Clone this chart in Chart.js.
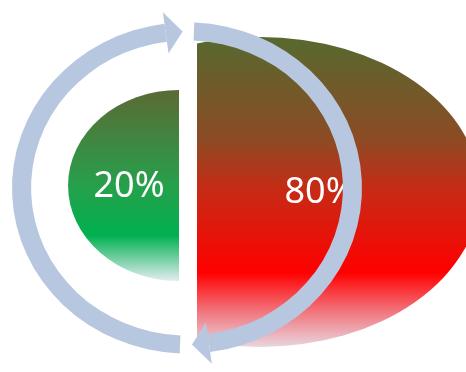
<!DOCTYPE html>
<html>
<head>
<meta charset="utf-8">
<script src="https://cdn.jsdelivr.net/npm/chart.js@4.4.1/dist/chart.umd.min.js"></script>
<style>
  html, body { margin: 0; padding: 0; background: #fff; }
  #wrap { width: 466px; height: 372px; }
</style>
</head>
<body>
<div id="wrap"><canvas id="pareto"></canvas></div>
<script>
/* ── Data: the 20 / 80 split ── */
const shareLabels = ['20%', '80%'];
const shareValues = [20, 80];

/* ── Ring arrows: degrees clockwise from top (gap, right arc, gap, left arc, gap) ── */
const ringSegments = [2.4, 170, 10, 170.2, 7.4];
const RING = '#b8c7e0';
const CLEAR = 'rgba(0,0,0,0)';
const ringColors = [CLEAR, RING, CLEAR, RING, CLEAR];

/* ── Gradient stops for the two halves ── */
const greenStops = [[0, '#5b6a35'], [0.5, '#27a04b'], [0.76, '#00b050'], [1, '#e2edf0']];
const redStops   = [[0, '#56692f'], [0.33, '#8c4b24'], [0.49, '#c62b15'], [0.76, '#ff0000'], [0.88, '#f27078'], [1, '#e8d6de']];

const SQUASH = 0.946;   // ring is a touch flatter than a circle

function halfEllipse(ctx, ex, ey, rx, ry, clipL, clipR, stops, h) {
  ctx.save();
  ctx.beginPath();
  ctx.rect(clipL, 0, clipR - clipL, h);
  ctx.clip();
  const g = ctx.createLinearGradient(0, ey - ry, 0, ey + ry);
  stops.forEach(([o, c]) => g.addColorStop(o, c));
  ctx.fillStyle = g;
  ctx.beginPath();
  ctx.ellipse(ex, ey, rx, ry, 0, 0, Math.PI * 2);
  ctx.fill();
  ctx.restore();
}

function arrowHead(ctx, arc) {
  const rm = (arc.outerRadius + arc.innerRadius) / 2;
  const half = 22, len = 17 / rm;
  const a = arc.endAngle;
  ctx.fillStyle = RING;
  ctx.beginPath();
  ctx.moveTo(arc.x + (rm + half) * Math.cos(a), arc.y + (rm + half) * Math.sin(a));
  ctx.lineTo(arc.x + rm * Math.cos(a + len), arc.y + rm * Math.sin(a + len));
  ctx.lineTo(arc.x + (rm - half) * Math.cos(a), arc.y + (rm - half) * Math.sin(a));
  ctx.closePath();
  ctx.fill();
}

const paretoPlugin = {
  id: 'pareto',
  beforeDatasetsDraw(chart) {
    const ctx = chart.ctx;
    const arc = chart.getDatasetMeta(0).data[1];
    const cx = arc.x, cy = arc.y, R = arc.outerRadius;

    // 20% — small green half, 80% — large red half
    halfEllipse(ctx, cx - 8, cy - 2.5, R * 0.634, R * 0.546, 0, cx - 8, greenStops, chart.height);
    halfEllipse(ctx, cx + 73, cy + 4, R * 1.257, R * 0.886, cx + 10, chart.width, redStops, chart.height);

    ctx.save();
    ctx.fillStyle = '#ffffff';
    ctx.font = '36px "Noto Sans", "Open Sans", sans-serif';
    ctx.textAlign = 'center';
    ctx.textBaseline = 'alphabetic';
    ctx.fillText(shareLabels[0], cx - 58, cy + 9);
    ctx.fillText(shareLabels[1], cx + 133, cy + 15);
    ctx.restore();

    // squash the ring vertically
    ctx.save();
    ctx.translate(cx, cy);
    ctx.scale(1, SQUASH);
    ctx.translate(-cx, -cy);
  },
  afterDatasetsDraw(chart) {
    const ctx = chart.ctx;
    const arcs = chart.getDatasetMeta(0).data;
    arrowHead(ctx, arcs[1]);
    arrowHead(ctx, arcs[3]);
    ctx.restore();
  }
};

new Chart(document.getElementById('pareto'), {
  type: 'doughnut',
  data: {
    labels: ['', 'right', '', 'left', ''],
    datasets: [{
      data: ringSegments,
      backgroundColor: ringColors,
      borderWidth: 0,
      clip: false
    }]
  },
  options: {
    responsive: true, maintainAspectRatio: false, animation: false,
    events: [],
    cutout: '89.1%',
    layout: { padding: { left: 12, right: 104, top: 13, bottom: 9 } },
    plugins: { legend: { display: false }, tooltip: { enabled: false } }
  },
  plugins: [paretoPlugin]
});
</script>
</body>
</html>
